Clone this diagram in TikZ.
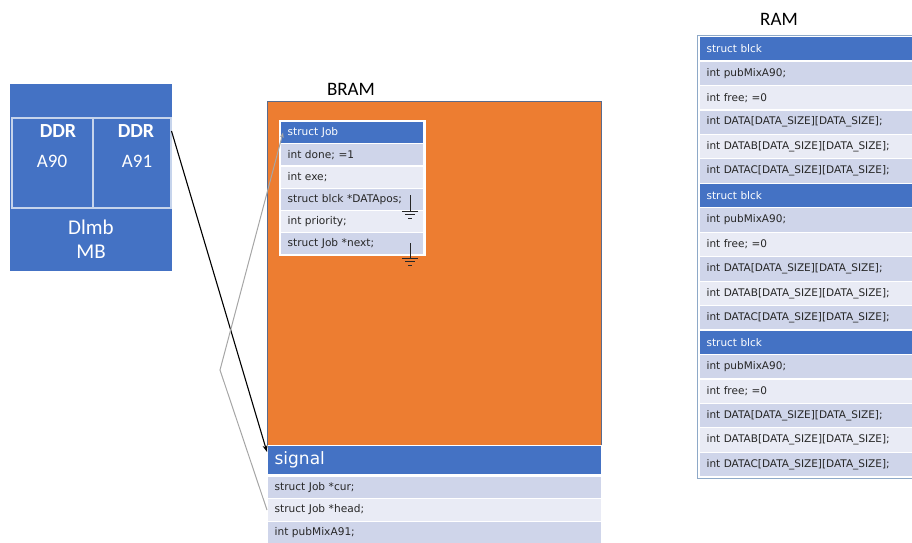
\documentclass[tikz,border=0pt]{standalone}
\usepackage{fontspec}
\setmainfont{Carlito}
\newfontfamily\codefont{DejaVu Sans}
\usetikzlibrary{arrows.meta}
\definecolor{hdr}{HTML}{4472C4}
\definecolor{rowA}{HTML}{CFD5EA}
\definecolor{rowB}{HTML}{E9EBF5}
\definecolor{bram}{HTML}{ED7D31}
\definecolor{frame}{HTML}{C6D4EC}
\definecolor{edge}{HTML}{5A6B8C}
\definecolor{ramedge}{HTML}{8EA9C8}
\definecolor{ink}{HTML}{262626}
\begin{document}
\begin{tikzpicture}[x=1pt,y=-1pt,
  lbl/.style={font=\fontsize{19}{21}\selectfont, text=black},
  wtxt/.style={font=\fontsize{19}{21}\selectfont, text=white},
  cellrow/.style={anchor=north west, draw=white, line width=1.2pt, inner xsep=7pt,
     inner ysep=0pt, align=left, text=ink, font=\codefont\fontsize{10.6}{12}\selectfont},
  jobrow/.style={cellrow, text width=129pt, minimum height=22.2pt},
  sigrow/.style={cellrow, text width=320pt, minimum height=22.6pt},
  ramrow/.style={cellrow, text width=215pt, minimum height=24.45pt, font=\codefont\fontsize{10.5}{12}\selectfont},
  headtxt/.style={fill=hdr, text=white},
  ground/.style={draw=black!85, line width=0.9pt}
]
\useasboundingbox (0,0) rectangle (912,542);

% ---- memory block on the left ----
\node[fill=hdr, anchor=north west, minimum width=162pt, minimum height=187pt, inner sep=0] (mb) at (10,84) {};
\node[draw=frame, line width=1.5pt, anchor=north west, minimum width=81pt, minimum height=90pt, inner sep=0] (a90) at (11,117) {};
\node[draw=frame, line width=1.5pt, anchor=north west, minimum width=78pt, minimum height=90pt, inner sep=0] (a91) at (92,117) {};
\node[wtxt, font=\bfseries\fontsize{20}{22}\selectfont] at (58,131) {DDR};
\node[wtxt] at (52,161) {A90};
\node[wtxt, font=\bfseries\fontsize{20}{22}\selectfont] at (136,131) {DDR};
\node[wtxt] at (137,161) {A91};
\node[wtxt, align=center, font=\fontsize{21}{24}\selectfont] (dlmb) at (91,239) {Dlmb\\MB};

% ---- BRAM ----
\node[lbl] (bramlbl) at (351,89) {BRAM};
\node[fill=bram, draw=edge, line width=1pt, anchor=north west, minimum width=334pt, minimum height=344pt, inner sep=0] (bram) at (267,101) {};

% struct Job table
\fill[white] (278.5,119.5) rectangle (425.5,255.5);
\node[jobrow, headtxt] (job) at (280,121) {struct Job};
\node[jobrow, fill=rowA] (done) at (280,143.2) {int done; =1};
\node[jobrow, fill=rowB] (exe) at (280,165.4) {int exe;};
\node[jobrow, fill=rowA] (pos) at (280,187.6) {struct blck *DATApos;};
\node[jobrow, fill=rowB] (prio) at (280,209.8) {int priority;};
\node[jobrow, fill=rowA] (next) at (280,232) {struct Job *next;};

% null pointers
\draw[ground] (410,195) -- (410,211) (402,211) -- (418,211) (405,214.5) -- (415,214.5) (408,218) -- (412,218);
\draw[ground] (410,243) -- (410,258) (402,258) -- (418,258) (405,261.5) -- (415,261.5) (408,265) -- (412,265);

% signal table
\node[sigrow, headtxt, minimum height=29pt, font=\codefont\fontsize{17}{19}\selectfont] (signal) at (267,445) {signal};
\node[sigrow, fill=rowA] (cur) at (267,475.5) {struct Job *cur;};
\node[sigrow, fill=rowB] (head) at (267,498.1) {struct Job *head;};
\node[sigrow, fill=rowA] (pub) at (267,520.7) {int pubMixA91;};

% ---- RAM ----
\node[lbl] (ramlbl) at (779,19) {RAM};
\draw[ramedge, line width=1pt] (697.5,35) rectangle (940,478.5);
\foreach \g in {0,1,2}{
  \pgfmathsetmacro{\yy}{36+\g*146.7}
  \node[ramrow, headtxt] (blck\g) at (699,\yy) {struct blck};
  \node[ramrow, fill=rowA] at (699,\yy+24.45) {int pubMixA90;};
  \node[ramrow, fill=rowB] at (699,\yy+48.9) {int free; =0};
  \node[ramrow, fill=rowA] at (699,\yy+73.35) {int DATA[DATA\_SIZE][DATA\_SIZE];};
  \node[ramrow, fill=rowB] at (699,\yy+97.8) {int DATAB[DATA\_SIZE][DATA\_SIZE];};
  \node[ramrow, fill=rowA] at (699,\yy+122.25) {int DATAC[DATA\_SIZE][DATA\_SIZE];};
}

% ---- connectors ----
\draw[black, line width=1.1pt, -{Stealth[length=7pt,width=5pt]}] (a91.north east) ++(0,14) coordinate (src) -- ([yshift=-7pt]signal.north west);
\coordinate (bend) at (220,370);
\draw[gray!70, line width=1pt, -{Stealth[length=5pt,width=4pt]}] (head.west) -- (bend) -- ([xshift=3pt]job.west);
\end{tikzpicture}
\end{document}
